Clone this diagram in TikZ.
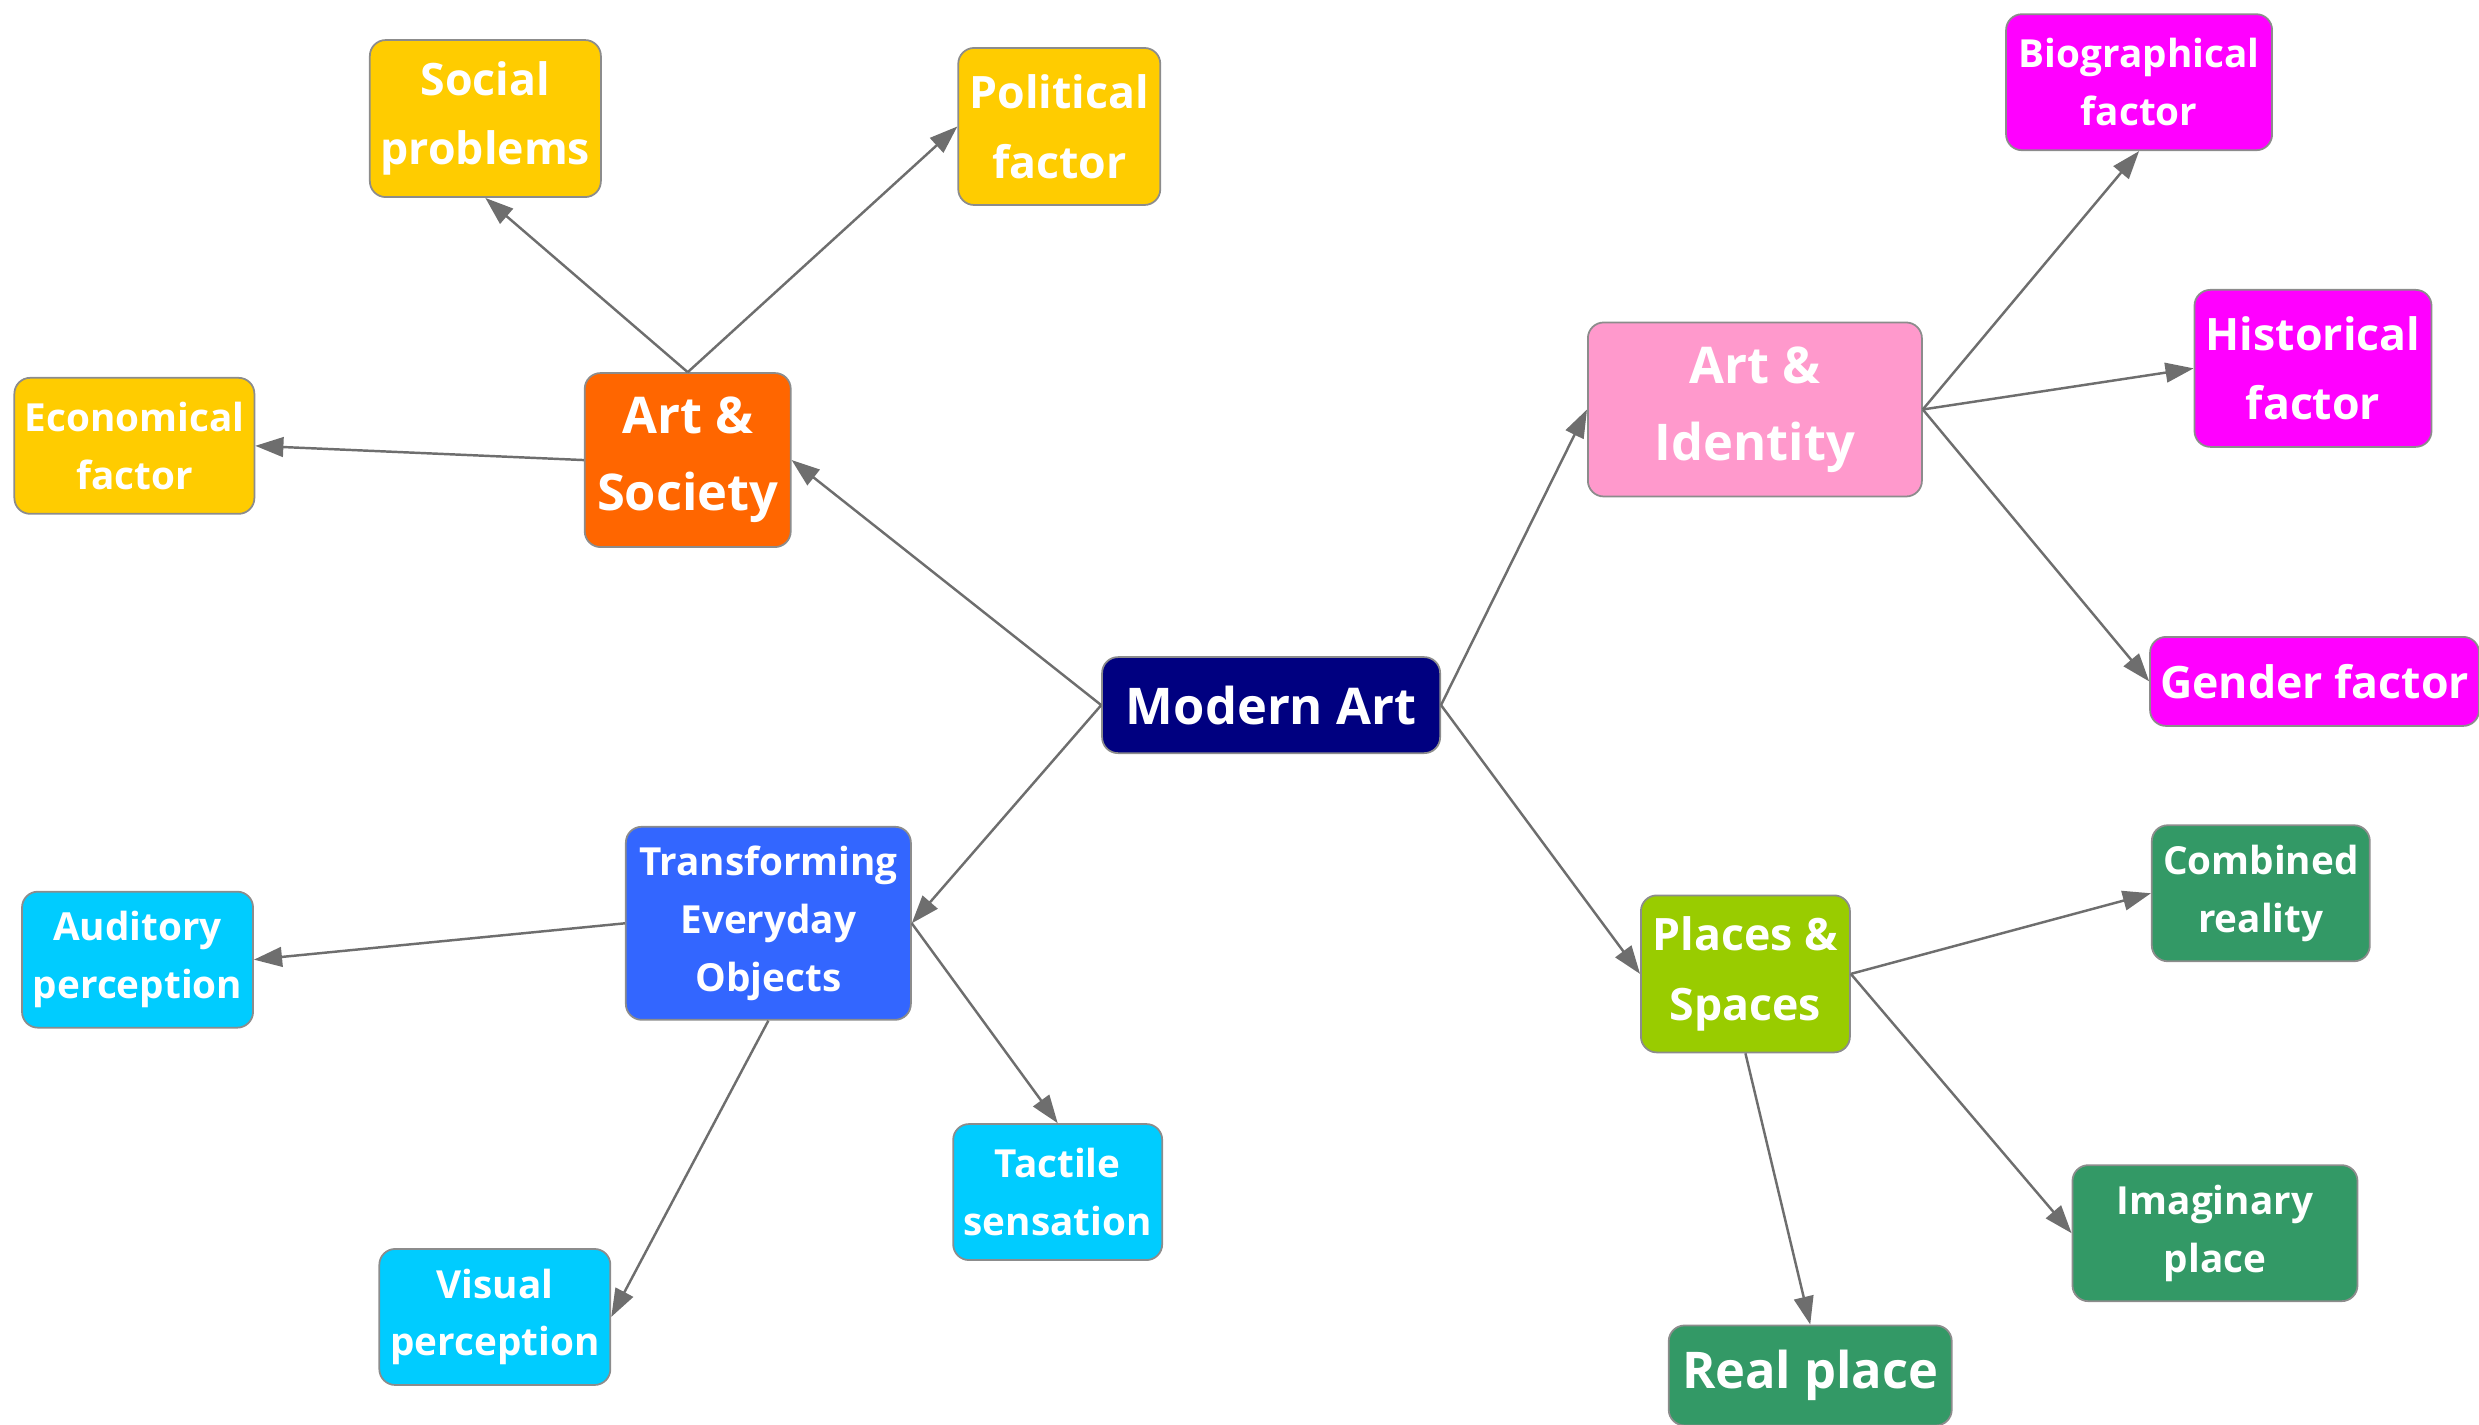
\documentclass[tikz,border=0pt]{standalone}
\usepackage{fontspec}
\setmainfont{Open Sans}
\usepackage{xcolor}
\usepackage{tikz}
\usetikzlibrary{positioning,arrows.meta}

\definecolor{navyart}{HTML}{000080}
\definecolor{orangeart}{HTML}{FF6600}
\definecolor{goldart}{HTML}{FFCC00}
\definecolor{pinkart}{HTML}{FF99CC}
\definecolor{magentaart}{HTML}{FF00FF}
\definecolor{limeart}{HTML}{99CC00}
\definecolor{greenart}{HTML}{339966}
\definecolor{blueart}{HTML}{3366FF}
\definecolor{cyanart}{HTML}{00CCFF}
\definecolor{linkgray}{HTML}{6E6E6E}

\begin{document}
\begin{tikzpicture}[
    x=0.01581cm, y=-0.01581cm,
    topic/.style={rectangle, rounded corners=4.5pt, draw=black!45, line width=0.5pt, text=white, align=center, inner sep=1pt},
    big/.style={font=\fontsize{14.4}{22}\selectfont\bfseries},
    mid/.style={font=\fontsize{12.7}{19.8}\selectfont\bfseries},
    small/.style={font=\fontsize{11}{16.4}\selectfont\bfseries},
    link/.style={draw=linkgray, line width=0.7pt, -{Triangle[length=8pt,width=5.6pt]}}
]
    \useasboundingbox (0,0) rectangle (1568,901);

    % centre
    \node[topic, big, fill=navyart, minimum width=3.38cm, minimum height=0.96cm] (modern) at (804,446) {Modern Art};

    % art and society
    \node[topic, big, fill=orangeart, minimum width=2.06cm, minimum height=1.74cm] (society) at (435,291) {Art \&\\ Society};
    \node[topic, mid, fill=goldart, minimum width=2.31cm, minimum height=1.57cm] (social) at (307,75) {Social\\ problems};
    \node[topic, mid, fill=goldart, minimum width=2.02cm, minimum height=1.57cm] (political) at (670,80) {Political\\ factor};
    \node[topic, small, fill=goldart, minimum width=2.40cm, minimum height=1.36cm] (economical) at (85,282) {Economical\\ factor};

    % art and identity
    \node[topic, big, fill=pinkart, minimum width=3.34cm, minimum height=1.74cm] (identity) at (1110,259) {Art \&\\ Identity};
    \node[topic, small, fill=magentaart, minimum width=2.66cm, minimum height=1.36cm] (biographical) at (1353,52) {Biographical\\ factor};
    \node[topic, mid, fill=magentaart, minimum width=2.37cm, minimum height=1.57cm] (historical) at (1463,233) {Historical\\ factor};
    \node[topic, mid, fill=magentaart, minimum width=3.29cm, minimum height=0.89cm] (gender) at (1464,431) {Gender factor};

    % places and spaces
    \node[topic, mid, fill=limeart, minimum width=2.09cm, minimum height=1.57cm] (places) at (1104,616) {Places \&\\ Spaces};
    \node[topic, small, fill=greenart, minimum width=2.18cm, minimum height=1.36cm] (combined) at (1430,565) {Combined\\ reality};
    \node[topic, small, fill=greenart, minimum width=2.85cm, minimum height=1.36cm] (imaginary) at (1401,780) {Imaginary\\ place};
    \node[topic, big, fill=greenart, minimum width=2.83cm, minimum height=1.00cm] (real) at (1145,870) {Real place};

    % everyday objects
    \node[topic, small, fill=blueart, minimum width=2.85cm, minimum height=1.93cm] (objects) at (486,584) {Transforming\\ Everyday\\ Objects};
    \node[topic, small, fill=cyanart, minimum width=2.31cm, minimum height=1.36cm] (auditory) at (87,607) {Auditory\\ perception};
    \node[topic, small, fill=cyanart, minimum width=2.09cm, minimum height=1.36cm] (tactile) at (669,754) {Tactile\\ sensation};
    \node[topic, small, fill=cyanart, minimum width=2.31cm, minimum height=1.36cm] (visual) at (313,833) {Visual\\ perception};

    % connectors
    \draw[link] (modern.west) -- (society.east);
    \draw[link] (modern.west) -- (objects.east);
    \draw[link] (modern.east) -- (identity.west);
    \draw[link] (modern.east) -- (places.west);

    \draw[link] (society.north) -- (social.south);
    \draw[link] (society.north) -- (political.west);
    \draw[link] (society.west) -- (economical.east);

    \draw[link] (identity.east) -- (biographical.south);
    \draw[link] (identity.east) -- (historical.west);
    \draw[link] (identity.east) -- (gender.west);

    \draw[link] (places.east) -- (combined.west);
    \draw[link] (places.east) -- (imaginary.west);
    \draw[link] (places.south) -- (real.north);

    \draw[link] (objects.west) -- (auditory.east);
    \draw[link] (objects.south) -- (visual.east);
    \draw[link] (objects.east) -- (tactile.north);
\end{tikzpicture}
\end{document}
